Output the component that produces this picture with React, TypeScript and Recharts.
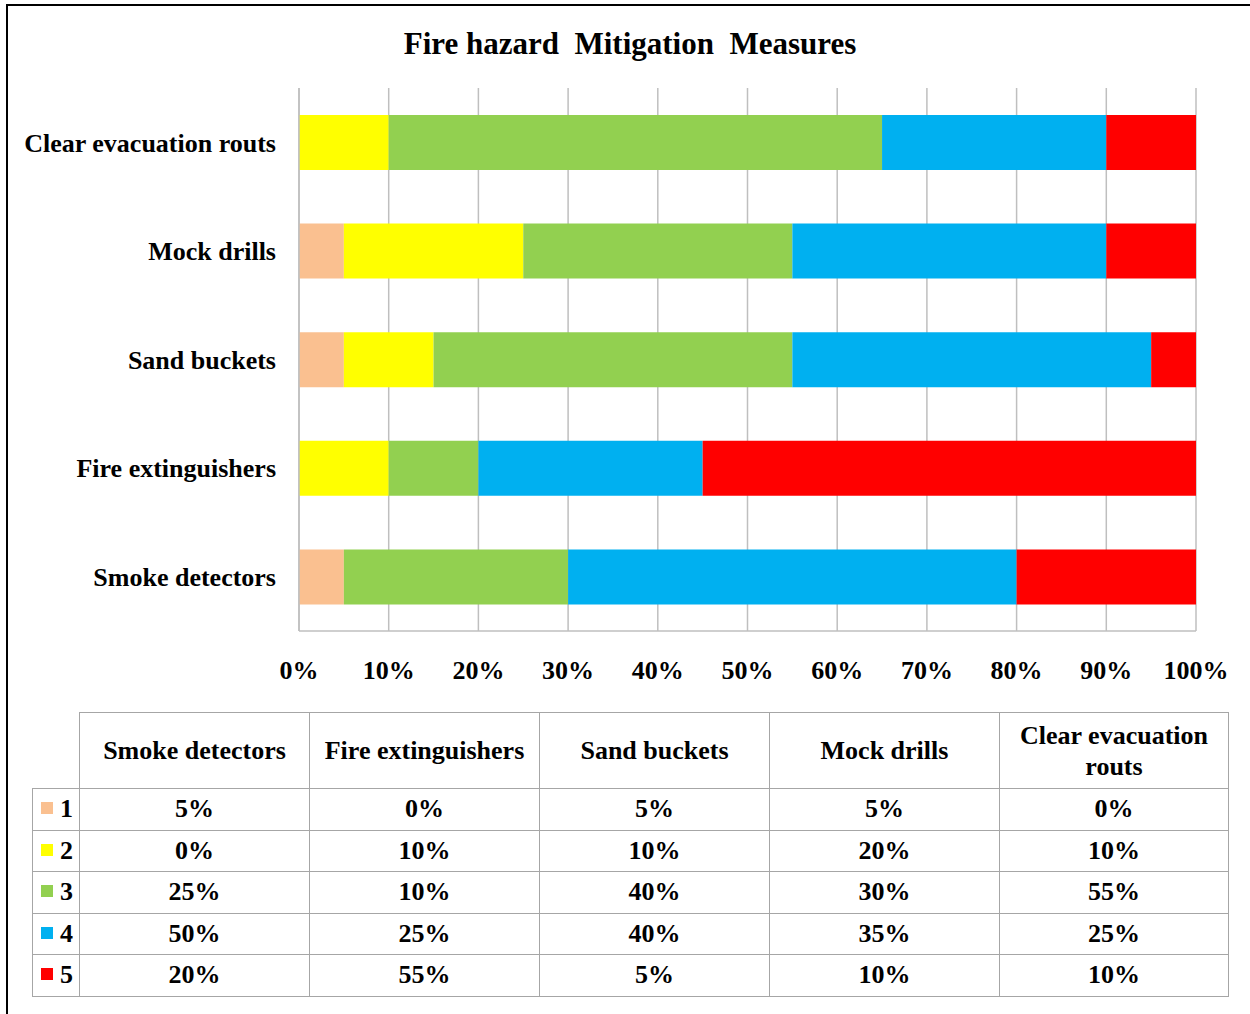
import React from "react";
import { BarChart, Bar, XAxis, YAxis, CartesianGrid } from "recharts";

const categories = ["Smoke detectors", "Fire extinguishers", "Sand buckets", "Mock drills", "Clear evacuation routs"];
const seriesNames = ["1", "2", "3", "4", "5"];
const seriesColors = ["#FAC090", "#FFFF00", "#92D050", "#00B0F0", "#FF0000"];
const s1 = [5, 0, 5, 5, 0];
const s2 = [0, 10, 10, 20, 10];
const s3 = [25, 10, 40, 30, 55];
const s4 = [50, 25, 40, 35, 25];
const s5 = [20, 55, 5, 10, 10];
const seriesValues = [s1, s2, s3, s4, s5];
const xTicks = [0, 10, 20, 30, 40, 50, 60, 70, 80, 90, 100];

const data = categories.map((c, i) => {
  const row: Record<string, any> = { name: c };
  seriesNames.forEach((s, k) => {
    row["s" + s] = seriesValues[k][i];
  });
  return row;
});

const FONT = "'Liberation Serif', 'Times New Roman', serif";
const GRID = "#BFBFBF";
const TB = "1px solid #A6A6A6";

const colWidths = [47, 230, 230, 230, 230, 229];

export default function App() {
  return (
    <div style={{ position: "absolute", left: 0, top: 0, width: 1250, height: 1014, background: "#fff", overflow: "hidden", fontFamily: FONT }}>
      <div style={{ position: "absolute", left: 6, top: 4, width: 1300, height: 1100, borderTop: "2px solid #000", borderLeft: "2px solid #000" }} />
      <div style={{ position: "absolute", left: 0, top: 25, width: 1260, textAlign: "center", fontSize: 31, fontWeight: "bold", whiteSpace: "pre", lineHeight: "38px" }}>
        {"Fire hazard  Mitigation  Measures"}
      </div>
      <div style={{ position: "absolute", left: 0, top: 0 }}>
        <BarChart
          width={1250}
          height={1014}
          data={data}
          layout="vertical"
          margin={{ top: 88, right: 54, bottom: 353, left: 9 }}
          barSize={55}
        >
          <CartesianGrid horizontal={false} vertical={true} stroke={GRID} strokeWidth={1.5} />
          <XAxis
            type="number"
            domain={[0, 100]}
            ticks={xTicks}
            tickFormatter={(v: number) => v + "%"}
            tickLine={false}
            axisLine={{ stroke: GRID, strokeWidth: 1.5 }}
            tickSize={0}
            tickMargin={30}
            tick={{ fontFamily: FONT, fontSize: 26, fontWeight: "bold", fill: "#000" }}
            interval={0}
          />
          <YAxis
            type="category"
            dataKey="name"
            reversed
            width={290}
            tickLine={false}
            axisLine={{ stroke: GRID, strokeWidth: 1.5 }}
            tickSize={0}
            tickMargin={23}
            tick={{ fontFamily: FONT, fontSize: 26, fontWeight: "bold", fill: "#000" }}
            interval={0}
          />
          {seriesNames.map((s, k) => (
            <Bar key={s} dataKey={"s" + s} stackId="a" fill={seriesColors[k]} isAnimationActive={false} />
          ))}
        </BarChart>
      </div>
      <table
        style={{
          position: "absolute",
          left: 32,
          top: 712,
          borderCollapse: "collapse",
          tableLayout: "fixed",
          fontFamily: FONT,
          fontWeight: "bold",
          fontSize: 26,
          color: "#000",
        }}
      >
        <colgroup>
          {colWidths.map((w, i) => (
            <col key={i} style={{ width: w }} />
          ))}
        </colgroup>
        <tbody>
          <tr style={{ height: 76 }}>
            <td style={{ borderTop: "none", borderLeft: "none", padding: 0 }} />
            {categories.map((c) => (
              <td key={c} style={{ border: TB, textAlign: "center", padding: "0 6px", lineHeight: "31px" }}>
                {c}
              </td>
            ))}
          </tr>
          {seriesNames.map((s, k) => (
            <tr key={s} style={{ height: 41.5 }}>
              <td style={{ border: TB, padding: "0 0 0 8px", whiteSpace: "nowrap", lineHeight: "30px" }}>
                <span style={{ display: "inline-block", width: 12, height: 12, background: seriesColors[k], marginRight: 7, verticalAlign: "3px" }} />
                {s}
              </td>
              {seriesValues[k].map((v, i) => (
                <td key={i} style={{ border: TB, textAlign: "center", padding: 0, lineHeight: "30px" }}>
                  {v + "%"}
                </td>
              ))}
            </tr>
          ))}
        </tbody>
      </table>
    </div>
  );
}
